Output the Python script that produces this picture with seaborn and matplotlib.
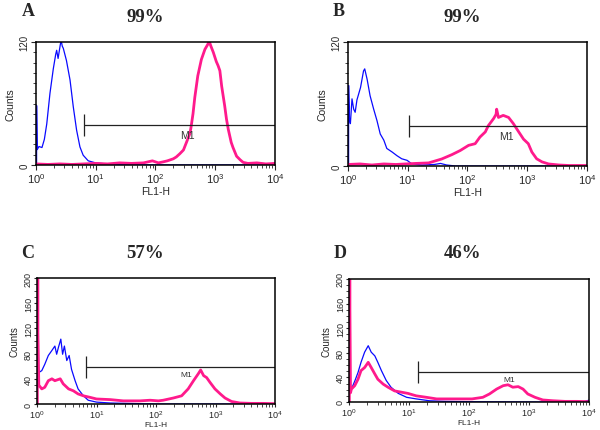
import numpy as np
import matplotlib
matplotlib.use('Agg')
import matplotlib.pyplot as plt
from matplotlib.ticker import MultipleLocator, FixedLocator, LogLocator, NullFormatter
import seaborn as sns


LETTERS = ['A', 'B', 'C', 'D']
PERCENTS = ['99%', '99%', '57%', '46%']
Y_MAX = [120, 120, 200, 200]
Y_TICKS = [[0, 120], [0, 120], [0, 40, 80, 120, 160, 200], [0, 40, 80, 120, 160, 200]]

# histograms: log10(FL1-H) channel position, counts
a_blue_log = [0.01, 0.01, 0.02, 0.05, 0.1, 0.14, 0.18, 0.234, 0.29, 0.33, 0.346, 0.37, 0.40, 0.42, 0.44,
              0.457, 0.51, 0.57, 0.624, 0.68, 0.736, 0.79, 0.875, 1.0, 1.18, 1.4, 2.0, 3.0, 4.0]
a_blue_cnt = [0, 58, 15, 18, 17, 25, 40, 70, 94, 108, 112, 104, 115, 122, 116,
              114, 102, 83, 57, 34, 17.6, 9.5, 4, 2, 1, 0.5, 0, 0, 0]
a_pink_log = [0.0, 0.2, 0.4, 0.6, 0.8, 1.0, 1.2, 1.4, 1.6, 1.8, 1.95, 2.05, 2.13, 2.2, 2.3, 2.35, 2.41,
              2.47, 2.52, 2.58, 2.6, 2.63, 2.66, 2.71, 2.77, 2.83, 2.88, 2.90, 2.93, 2.97, 3.02, 3.05,
              3.08, 3.11, 3.16, 3.19, 3.22, 3.27, 3.30, 3.36, 3.42, 3.47, 3.55, 3.7, 3.85, 4.0]
a_pink_cnt = [1, 0.5, 1, 0.5, 1, 1.5, 1, 2, 1.5, 2, 4, 2, 3, 4, 6, 7.8, 11,
              14.6, 22, 31, 38, 50, 66, 87, 103, 113, 118, 121, 116, 110, 101, 97,
              92, 77, 58, 45, 35, 22, 17, 8.5, 5, 2.5, 1.5, 2, 1, 1.5]

b_blue_log = [0.01, 0.01, 0.025, 0.04, 0.067, 0.095, 0.12, 0.15, 0.21, 0.26, 0.28, 0.32, 0.37, 0.43, 0.485,
              0.54, 0.6, 0.65, 0.74, 0.82, 0.9, 0.99, 1.07, 1.24, 1.45, 1.55, 1.65, 1.8, 2.5, 4.0]
b_blue_cnt = [0, 78, 45, 41, 65, 55, 52, 64, 76, 92, 94, 84, 68, 55, 44,
              31, 25, 17, 13.5, 10, 7, 5.5, 2, 1, 1.5, 2.5, 1, 0, 0, 0]
b_pink_log = [0.0, 0.2, 0.4, 0.6, 0.8, 0.96, 1.13, 1.35, 1.57, 1.74, 1.88, 2.02, 2.13, 2.21, 2.3, 2.35,
              2.44, 2.48, 2.49, 2.52, 2.6, 2.69, 2.77, 2.86, 2.94, 3.02, 3.08, 3.16, 3.25, 3.36, 3.53,
              3.7, 4.0]
b_pink_cnt = [1.5, 2, 1, 2, 1.5, 2, 2.5, 3, 6.8, 11, 15, 20, 21.6, 28, 33, 39,
              46, 50, 55, 47, 49, 47, 41, 33, 26, 21.6, 13.5, 7, 4, 2, 1,
              0.5, 0.5]

c_blue_log = [0.03, 0.08, 0.13, 0.19, 0.25, 0.3, 0.33, 0.36, 0.4, 0.43, 0.46, 0.5, 0.54, 0.58, 0.64,
              0.69, 0.78, 0.86, 1.0, 1.23, 1.5, 2.0, 3.0, 4.0]
c_blue_cnt = [50, 53, 63, 77, 85, 92, 79, 90, 103, 79, 92, 69, 77, 55, 37,
              24, 13, 6, 3, 1.6, 1, 0, 0, 0]
c_pink_log = [0.005, 0.005, 0.015, 0.015, 0.03, 0.08, 0.13, 0.19, 0.25, 0.3, 0.39, 0.44, 0.53, 0.61, 0.69,
              0.78, 0.89, 1.0, 1.23, 1.45, 1.73, 1.9, 2.04, 2.12, 2.29, 2.43, 2.54, 2.63, 2.71, 2.75,
              2.8, 2.85, 2.91, 2.99, 3.08, 3.16, 3.27, 3.41, 3.6, 3.8, 4.0]
c_pink_cnt = [0, 260, 260, 114, 30, 24, 26.5, 37, 40, 37, 40, 32, 24, 21, 16,
              13, 10.6, 8, 7, 5, 5, 6, 5, 6, 9.5, 13, 24, 37, 48, 54,
              45, 42, 34, 24, 16, 9.5, 4, 1.6, 1, 1, 0.5]

d_blue_log = [0.02, 0.04, 0.1, 0.15, 0.2, 0.26, 0.32, 0.37, 0.43, 0.48, 0.54, 0.62, 0.7, 0.82, 0.96,
              1.12, 1.34, 1.6, 2.0, 3.0, 3.9, 4.0]
d_blue_cnt = [15, 21, 35, 48, 64.5, 81, 91.5, 81, 75, 64.5, 51, 35, 24, 14, 7.6,
              5, 2, 1, 0.5, 0, 0, 3]
d_pink_log = [0.005, 0.005, 0.015, 0.015, 0.025, 0.04, 0.095, 0.15, 0.2, 0.26, 0.32, 0.37, 0.43, 0.48, 0.57,
              0.65, 0.76, 0.87, 0.98, 1.12, 1.29, 1.46, 1.68, 1.9, 2.05, 2.23, 2.34, 2.46, 2.57, 2.65,
              2.73, 2.82, 2.9, 2.98, 3.1, 3.23, 3.4, 3.6, 3.8, 4.0]
d_pink_cnt = [0, 260, 260, 150, 15, 21, 26.5, 37, 51, 56, 64.5, 56, 45.5, 37, 29,
              24, 18, 16, 14, 10, 7.6, 5, 5, 5, 5, 7.6, 13, 21, 26.5, 28,
              24, 25, 21, 13, 7.6, 3.3, 2, 1, 1, 0.5]

# M1 gate: start (log10), level (counts), label position
GATE_START = [0.80, 1.02, 0.82, 1.15]
GATE_LEVEL = [39, 39, 59, 49]
M1_LOG = [2.54, 2.66, 2.50, 2.67]
M1_CNT = [29, 29.5, 47, 37]

BLUE = '#0a0aff'
PINK = '#ff1a8c'

sns.set_style('white')
plt.rcParams['font.family'] = ['Liberation Sans', 'DejaVu Sans']
plt.rcParams['mathtext.fontset'] = 'custom'
plt.rcParams['mathtext.rm'] = 'Liberation Sans'

fig = plt.figure(figsize=(6.0, 4.31), dpi=100)

# axes boxes [left, bottom, width, height]
boxes = [[0.060, 0.615, 0.398, 0.285],
         [0.580, 0.6125, 0.398, 0.2877],
         [0.0617, 0.0603, 0.3967, 0.2923],
         [0.5817, 0.065, 0.400, 0.2854]]
curves = [(a_blue_log, a_blue_cnt, a_pink_log, a_pink_cnt),
          (b_blue_log, b_blue_cnt, b_pink_log, b_pink_cnt),
          (c_blue_log, c_blue_cnt, c_pink_log, c_pink_cnt),
          (d_blue_log, d_blue_cnt, d_pink_log, d_pink_cnt)]
letter_pos = [(28, 12), (339, 12), (28, 254), (340, 254)]
pct_pos = [(145, 17), (462, 17), (145, 253), (462, 253)]
xlabel_y = [None, None, -0.134, -0.142]

for i in range(4):
    ax = fig.add_axes(boxes[i])
    bl, bc, pl, pc = curves[i]
    sns.lineplot(x=10 ** np.array(bl), y=bc, ax=ax, color=BLUE, linewidth=0.9,
                 estimator=None, sort=False)
    sns.lineplot(x=10 ** np.array(pl), y=pc, ax=ax, color=PINK, linewidth=2.0,
                 estimator=None, sort=False)
    ymax = Y_MAX[i]
    ax.set_xscale('log')
    ax.set_xlim(1, 1e4)
    ax.set_ylim(0, ymax)
    lower = i >= 2

    # M1 gate marker
    half = ymax * 0.09
    g0 = 10 ** GATE_START[i]
    ax.hlines(GATE_LEVEL[i], g0, 1e4, color='#222222', linewidth=0.9)
    ax.vlines(g0, GATE_LEVEL[i] - half, GATE_LEVEL[i] + half, color='#222222', linewidth=0.9)
    ax.text(10 ** M1_LOG[i], M1_CNT[i], 'M1', fontsize=6 if lower else 7.5,
            ha='center', va='center', color='#333333')

    for sp in ax.spines.values():
        sp.set_color('black')
        sp.set_linewidth(1.1)

    ax.xaxis.set_major_locator(LogLocator(base=10, numticks=10))
    ax.xaxis.set_minor_locator(LogLocator(base=10, subs=np.arange(2, 10), numticks=10))
    ax.xaxis.set_minor_formatter(NullFormatter())
    ax.yaxis.set_major_locator(FixedLocator(Y_TICKS[i]))
    ax.yaxis.set_minor_locator(MultipleLocator(10))
    ax.tick_params(axis='both', which='major', direction='out', length=3.5 if not lower else 2.5,
                   width=0.8, labelsize=6.5 if lower else 8, pad=1.0 if not lower else 0.5,
                   bottom=True, left=True)
    ax.tick_params(axis='both', which='minor', direction='out', length=2, width=0.6,
                   bottom=True, left=True)
    ax.tick_params(axis='y', labelsize=6.5 if lower else 7, labelrotation=90)
    for lab in ax.get_yticklabels():
        lab.set_va('center')

    ax.set_xlabel('FL1-H', fontsize=6 if lower else 7.5, labelpad=1)
    if xlabel_y[i] is not None:
        ax.xaxis.set_label_coords(0.5, xlabel_y[i])
    ax.set_ylabel('Counts', fontsize=7 if lower else 7.5, labelpad=3)

    lx, ly = letter_pos[i]
    fig.text(lx / 600, 1 - ly / 431, LETTERS[i], fontsize=13, fontweight='bold',
             family='Liberation Serif', ha='center', va='center')
    px, py = pct_pos[i]
    fig.text(px / 600, 1 - py / 431, PERCENTS[i], fontsize=13.5, fontweight='bold',
             family='Liberation Serif', ha='center', va='center')

fig.savefig('out.png', dpi=100, facecolor='white')
